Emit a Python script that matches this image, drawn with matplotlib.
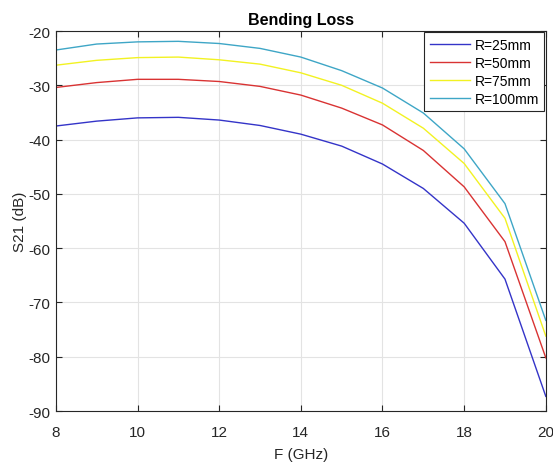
import matplotlib
matplotlib.use("Agg")
import matplotlib.pyplot as plt

freq = [8, 9, 10, 11, 12, 13, 14, 15, 16, 17, 18, 19, 20]
r25 = [-37.5, -36.6, -36.0, -35.9, -36.4, -37.4, -39.0, -41.2, -44.5, -49.0, -55.4, -65.7, -87.3]
r50 = [-30.4, -29.5, -28.9, -28.9, -29.3, -30.2, -31.8, -34.2, -37.3, -42.0, -48.7, -58.8, -80.2]
r75 = [-26.3, -25.4, -24.9, -24.8, -25.3, -26.1, -27.7, -30.0, -33.3, -37.9, -44.4, -54.5, -76.2]
r100 = [-23.5, -22.4, -22.0, -21.9, -22.3, -23.2, -24.8, -27.3, -30.5, -35.1, -41.7, -51.8, -73.3]
labels = ["R=25mm", "R=50mm", "R=75mm", "R=100mm"]
colors = ["#3434c8", "#d93333", "#f2f222", "#3ea6c6"]

plt.rcParams['font.family'] = ['Liberation Sans', 'DejaVu Sans']
plt.rcParams['axes.unicode_minus'] = False
fig = plt.figure(figsize=(5.53, 4.64), dpi=100)
ax = fig.add_axes([0.101, 0.112, 0.886, 0.819])

for ys, lab, c in zip([r25, r50, r75, r100], labels, colors):
    ax.plot(freq, ys, color=c, lw=1.0, label=lab)

ax.set_xlim(8, 20)
ax.set_ylim(-90, -20)
ax.set_xticks(range(8, 21, 2))
ax.set_yticks(range(-90, -19, 10))
ax.grid(True, color="#e3e3e3", lw=0.8)
ax.set_axisbelow(True)
ax.tick_params(direction="in", top=True, right=True, labelsize=11, colors="#262626",
               length=4, width=0.8)
ax.tick_params(axis="x", pad=10)
ax.tick_params(axis="y", pad=4)
for s in ax.spines.values():
    s.set_color("#262626")
    s.set_linewidth(0.8)
ax.set_xlabel("F (GHz)", fontsize=11, color="#262626", labelpad=6)
ax.set_ylabel("S21 (dB)", fontsize=11, color="#262626", labelpad=1)
ax.set_title("Bending Loss", fontsize=11.5, fontweight="bold", color="#000000", pad=5)
leg = ax.legend(loc="upper right", fontsize=10, fancybox=False, framealpha=1,
                edgecolor="#262626", borderpad=0.4, labelspacing=0.28,
                handlelength=2.9, handletextpad=0.3, borderaxespad=0.1)
leg.get_frame().set_linewidth(0.8)

fig.savefig("out.png", dpi=100)
